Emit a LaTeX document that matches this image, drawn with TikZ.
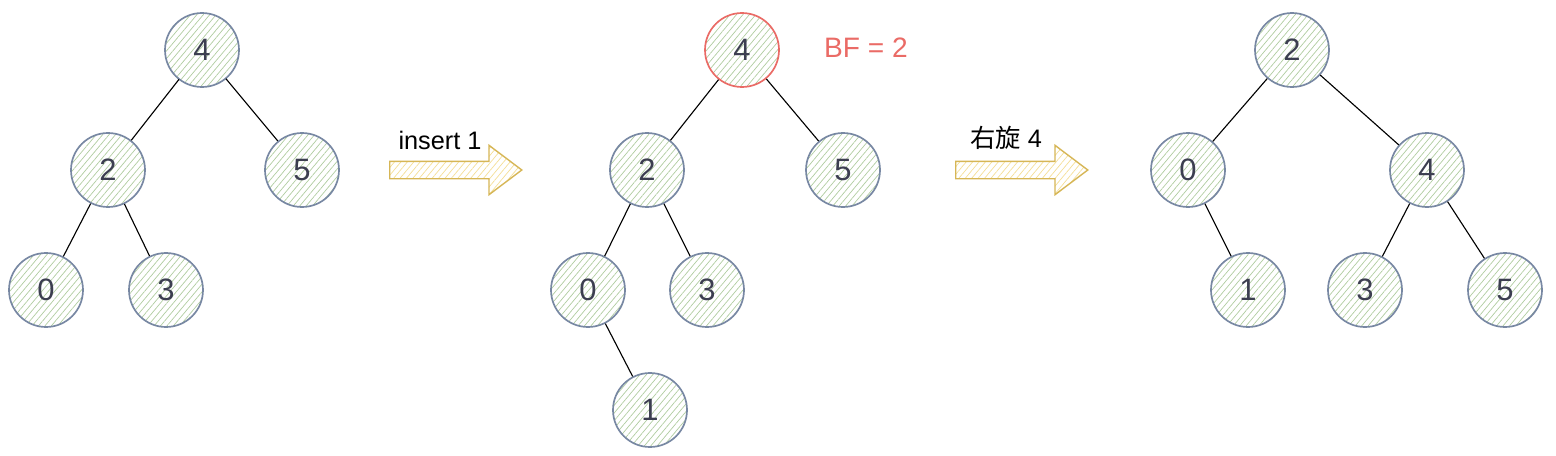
\documentclass[tikz,border=0pt]{standalone}
\usepackage{fontspec}
\setmainfont{Liberation Sans}
\newfontfamily\cjk{Noto Sans CJK SC}
\usepackage{tikz}
\usetikzlibrary{shapes,shapes.arrows,patterns.meta,positioning}
\definecolor{nodeborder}{RGB}{120,136,163}
\definecolor{hatchgreen}{RGB}{176,204,160}
\definecolor{digitgray}{RGB}{60,62,80}
\definecolor{bfred}{RGB}{234,107,102}
\definecolor{arrowgold}{RGB}{214,182,86}
\definecolor{hatchyellow}{RGB}{244,222,150}
\tikzstyle{treenode} = [circle, draw=nodeborder, line width=1.2pt, minimum size=1.85cm, inner sep=0pt, pattern={Lines[angle=50,distance=3.5pt,line width=0.5pt]}, pattern color=hatchgreen, text=digitgray, font=\fontsize{22}{24}\selectfont]
\tikzstyle{rednode} = [treenode, draw=bfred]
\tikzstyle{edge} = [draw, line width=0.8pt, color=black]
\tikzstyle{bigarrow} = [single arrow, draw=arrowgold, line width=1pt, minimum height=3.3cm, inner sep=0pt, inner ysep=0.2cm, single arrow head extend=0.4cm, single arrow tip angle=74, pattern={Lines[angle=50,distance=3.5pt,line width=0.5pt]}, pattern color=hatchyellow]
\tikzstyle{steplabel} = [font=\fontsize{18}{20}\selectfont, text=black]
\newcommand{\treenode}[2]{node (n#1) [treenode] {#2}}
\newcommand{\rednode}[2]{node (n#1) [rednode] {#2}}
\begin{document}
\begin{tikzpicture}
\useasboundingbox (0,0) rectangle (38.9,-11.4);
% first tree
\path (5.05,-1.25) \treenode{a4}{4};
\path (na4)+(-2.35,-3.0) \treenode{a2}{2};
\path (na4)+(2.5,-3.0) \treenode{a5}{5};
\path (na2)+(-1.55,-3.0) \treenode{a0}{0};
\path (na2)+(1.45,-3.0) \treenode{a3}{3};
\path [edge] (na4) -- (na2);
\path [edge] (na4) -- (na5);
\path [edge] (na2) -- (na0);
\path [edge] (na2) -- (na3);

% insert 1
\path (11.25,-4.25) node (s1) [bigarrow] {};
\path (s1)+(-0.25,0.75) node (l1) [steplabel] {insert 1};

% second tree
\path (18.55,-1.25) \rednode{b4}{4};
\path (nb4)+(3.1,0.05) node (bf) [text=bfred, font=\fontsize{20}{22}\selectfont] {BF = 2};
\path (nb4)+(-2.375,-3.0) \treenode{b2}{2};
\path (nb4)+(2.525,-3.0) \treenode{b5}{5};
\path (nb2)+(-1.475,-3.0) \treenode{b0}{0};
\path (nb2)+(1.5,-3.0) \treenode{b3}{3};
\path (nb0)+(1.55,-3.0) \treenode{b1}{1};
\path [edge] (nb4) -- (nb2);
\path [edge] (nb4) -- (nb5);
\path [edge] (nb2) -- (nb0);
\path [edge] (nb2) -- (nb3);
\path [edge] (nb0) -- (nb1);

% rotate right
\path (25.4,-4.25) node (s2) [bigarrow] {};
\path (s2)+(-0.25,0.8) node (l2) [steplabel] {{\cjk 右旋} 4};

% third tree
\path (32.3,-1.25) \treenode{c2}{2};
\path (nc2)+(-2.6,-3.0) \treenode{c0}{0};
\path (nc2)+(3.375,-3.0) \treenode{c4}{4};
\path (nc0)+(1.5,-3.0) \treenode{c1}{1};
\path (nc4)+(-1.55,-3.0) \treenode{c3}{3};
\path (nc4)+(1.95,-3.0) \treenode{c5}{5};
\path [edge] (nc2) -- (nc0);
\path [edge] (nc2) -- (nc4);
\path [edge] (nc0) -- (nc1);
\path [edge] (nc4) -- (nc3);
\path [edge] (nc4) -- (nc5);
\end{tikzpicture}
\end{document}
